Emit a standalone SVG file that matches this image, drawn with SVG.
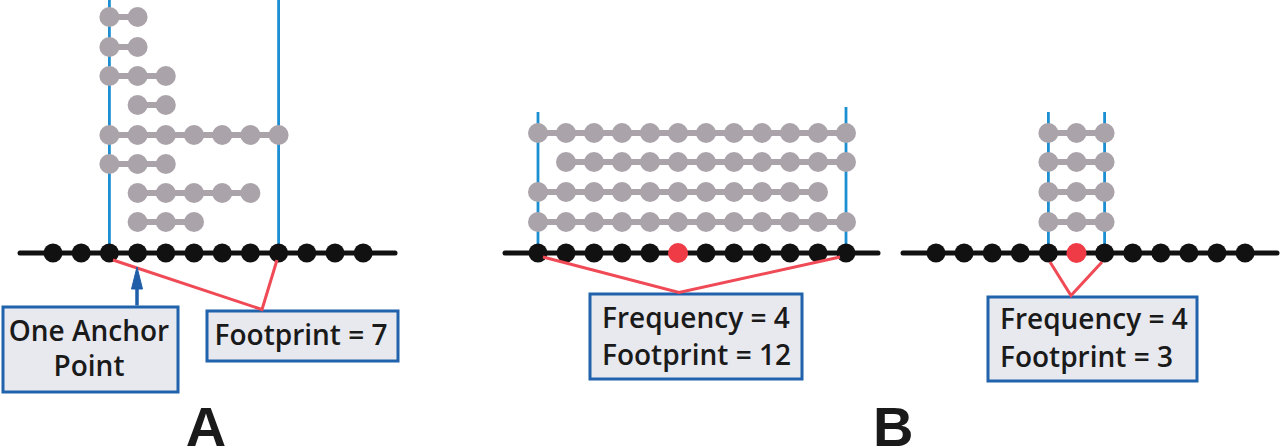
<svg xmlns="http://www.w3.org/2000/svg" width="1280" height="446" viewBox="0 0 1280 446">
<defs>
<style>
.axis{stroke:#111;stroke-width:5;stroke-linecap:round;fill:none}
.dot{fill:#111}
.red{fill:#ee3b45}
.bead{fill:#aaa4aa}
.link{stroke:#aaa4aa;stroke-width:6;fill:none}
.vline{stroke:#1b8fd2;stroke-width:2.8;fill:none}
.rl{stroke:#ef4a55;stroke-width:3;fill:none}
.box{fill:#e8e9ef;stroke:#2062ab;stroke-width:3}
.t{font-family:"Open Sans","Liberation Sans",sans-serif;font-size:28px;font-weight:600;fill:#1a1a1a}
.lab{font-family:"Liberation Sans",Arial,sans-serif;font-weight:bold;font-size:56px;fill:#1a1a1a}
.arrow{fill:#1f5ea8;stroke:#1f5ea8}
</style>
</defs>
<rect width="1280" height="446" fill="#ffffff"/>

<!-- Panel A -->
<g id="panelA">
<g id="A-reads">
<line class="vline" x1="109.4" y1="0" x2="109.4" y2="253"/>
<line class="vline" x1="278.6" y1="0" x2="278.6" y2="253"/>
<line class="link" x1="109.4" y1="17" x2="137.6" y2="17"/><circle class="bead" cx="109.4" cy="17" r="10"/><circle class="bead" cx="137.6" cy="17" r="10"/>
<line class="link" x1="109.4" y1="47" x2="137.6" y2="47"/><circle class="bead" cx="109.4" cy="47" r="10"/><circle class="bead" cx="137.6" cy="47" r="10"/>
<line class="link" x1="109.4" y1="76" x2="165.8" y2="76"/><circle class="bead" cx="109.4" cy="76" r="10"/><circle class="bead" cx="137.6" cy="76" r="10"/><circle class="bead" cx="165.8" cy="76" r="10"/>
<line class="link" x1="137.6" y1="105" x2="165.8" y2="105"/><circle class="bead" cx="137.6" cy="105" r="10"/><circle class="bead" cx="165.8" cy="105" r="10"/>
<line class="link" x1="109.4" y1="135" x2="278.6" y2="135"/><circle class="bead" cx="109.4" cy="135" r="10"/><circle class="bead" cx="137.6" cy="135" r="10"/><circle class="bead" cx="165.8" cy="135" r="10"/><circle class="bead" cx="194" cy="135" r="10"/><circle class="bead" cx="222.2" cy="135" r="10"/><circle class="bead" cx="250.4" cy="135" r="10"/><circle class="bead" cx="278.6" cy="135" r="10"/>
<line class="link" x1="109.4" y1="164" x2="165.8" y2="164"/><circle class="bead" cx="109.4" cy="164" r="10"/><circle class="bead" cx="137.6" cy="164" r="10"/><circle class="bead" cx="165.8" cy="164" r="10"/>
<line class="link" x1="137.6" y1="193" x2="250.4" y2="193"/><circle class="bead" cx="137.6" cy="193" r="10"/><circle class="bead" cx="165.8" cy="193" r="10"/><circle class="bead" cx="194" cy="193" r="10"/><circle class="bead" cx="222.2" cy="193" r="10"/><circle class="bead" cx="250.4" cy="193" r="10"/>
<line class="link" x1="137.6" y1="222" x2="194" y2="222"/><circle class="bead" cx="137.6" cy="222" r="10"/><circle class="bead" cx="165.8" cy="222" r="10"/><circle class="bead" cx="194" cy="222" r="10"/>
</g>
<g id="A-axis">
<line class="axis" x1="20" y1="253" x2="395" y2="253"/>
<circle class="dot" cx="53" cy="253" r="9.5"/><circle class="dot" cx="81.2" cy="253" r="9.5"/><circle class="dot" cx="109.4" cy="253" r="9.5"/><circle class="dot" cx="137.6" cy="253" r="9.5"/><circle class="dot" cx="165.8" cy="253" r="9.5"/><circle class="dot" cx="194" cy="253" r="9.5"/><circle class="dot" cx="222.2" cy="253" r="9.5"/><circle class="dot" cx="250.4" cy="253" r="9.5"/><circle class="dot" cx="278.6" cy="253" r="9.5"/><circle class="dot" cx="306.8" cy="253" r="9.5"/><circle class="dot" cx="335" cy="253" r="9.5"/><circle class="dot" cx="363.2" cy="253" r="9.5"/>
</g>
<g id="A-anchor-box">
<rect class="box" x="3" y="307" width="175" height="85"/>
<text class="t" x="89" y="341" text-anchor="middle">One Anchor</text>
<text class="t" x="89" y="376" text-anchor="middle">Point</text>
</g>
<g id="A-footprint-box">
<rect class="box" x="207" y="311" width="191" height="50"/>
<text class="t" x="301" y="345" text-anchor="middle">Footprint = 7</text>
</g>
<text id="labelA" class="lab" x="206" y="446" text-anchor="middle">A</text>
</g>

<!-- Panel B1 -->
<g id="panelB1">
<g id="B1-reads">
<line class="vline" x1="538" y1="112" x2="538" y2="253"/>
<line class="vline" x1="846" y1="107" x2="846" y2="253"/>
<line class="link" x1="538" y1="133" x2="846" y2="133"/>
<line class="link" x1="566" y1="162" x2="846" y2="162"/>
<line class="link" x1="538" y1="192" x2="818" y2="192"/>
<line class="link" x1="538" y1="222" x2="846" y2="222"/>
<g id="B1-row1"><circle class="bead" cx="538" cy="133" r="10"/><circle class="bead" cx="566" cy="133" r="10"/><circle class="bead" cx="594" cy="133" r="10"/><circle class="bead" cx="622" cy="133" r="10"/><circle class="bead" cx="650" cy="133" r="10"/><circle class="bead" cx="678" cy="133" r="10"/><circle class="bead" cx="706" cy="133" r="10"/><circle class="bead" cx="734" cy="133" r="10"/><circle class="bead" cx="762" cy="133" r="10"/><circle class="bead" cx="790" cy="133" r="10"/><circle class="bead" cx="818" cy="133" r="10"/><circle class="bead" cx="846" cy="133" r="10"/></g>
<g id="B1-row2"><circle class="bead" cx="566" cy="162" r="10"/><circle class="bead" cx="594" cy="162" r="10"/><circle class="bead" cx="622" cy="162" r="10"/><circle class="bead" cx="650" cy="162" r="10"/><circle class="bead" cx="678" cy="162" r="10"/><circle class="bead" cx="706" cy="162" r="10"/><circle class="bead" cx="734" cy="162" r="10"/><circle class="bead" cx="762" cy="162" r="10"/><circle class="bead" cx="790" cy="162" r="10"/><circle class="bead" cx="818" cy="162" r="10"/><circle class="bead" cx="846" cy="162" r="10"/></g>
<g id="B1-row3"><circle class="bead" cx="538" cy="192" r="10"/><circle class="bead" cx="566" cy="192" r="10"/><circle class="bead" cx="594" cy="192" r="10"/><circle class="bead" cx="622" cy="192" r="10"/><circle class="bead" cx="650" cy="192" r="10"/><circle class="bead" cx="678" cy="192" r="10"/><circle class="bead" cx="706" cy="192" r="10"/><circle class="bead" cx="734" cy="192" r="10"/><circle class="bead" cx="762" cy="192" r="10"/><circle class="bead" cx="790" cy="192" r="10"/><circle class="bead" cx="818" cy="192" r="10"/></g>
<g id="B1-row4"><circle class="bead" cx="538" cy="222" r="10"/><circle class="bead" cx="566" cy="222" r="10"/><circle class="bead" cx="594" cy="222" r="10"/><circle class="bead" cx="622" cy="222" r="10"/><circle class="bead" cx="650" cy="222" r="10"/><circle class="bead" cx="678" cy="222" r="10"/><circle class="bead" cx="706" cy="222" r="10"/><circle class="bead" cx="734" cy="222" r="10"/><circle class="bead" cx="762" cy="222" r="10"/><circle class="bead" cx="790" cy="222" r="10"/><circle class="bead" cx="818" cy="222" r="10"/><circle class="bead" cx="846" cy="222" r="10"/></g>
</g>
<g id="B1-axis">
<line class="axis" x1="505" y1="253" x2="878" y2="253"/>
<circle class="dot" cx="538" cy="253" r="9.5"/><circle class="dot" cx="566" cy="253" r="9.5"/><circle class="dot" cx="594" cy="253" r="9.5"/><circle class="dot" cx="622" cy="253" r="9.5"/><circle class="dot" cx="650" cy="253" r="9.5"/><circle class="red" cx="678" cy="253" r="10"/><circle class="dot" cx="706" cy="253" r="9.5"/><circle class="dot" cx="734" cy="253" r="9.5"/><circle class="dot" cx="762" cy="253" r="9.5"/><circle class="dot" cx="790" cy="253" r="9.5"/><circle class="dot" cx="818" cy="253" r="9.5"/><circle class="dot" cx="846" cy="253" r="9.5"/>
</g>
<g id="B1-box">
<rect class="box" x="590" y="294" width="212" height="85"/>
<text class="t" x="602" y="328">Frequency = 4</text>
<text class="t" x="602" y="365">Footprint = 12</text>
</g>
</g>

<!-- Panel B2 -->
<g id="panelB2">
<g id="B2-reads">
<line class="vline" x1="1048.4" y1="112" x2="1048.4" y2="253"/>
<line class="vline" x1="1104.6" y1="112" x2="1104.6" y2="253"/>
<line class="link" x1="1048.4" y1="133" x2="1104.6" y2="133"/><circle class="bead" cx="1048.4" cy="133" r="10"/><circle class="bead" cx="1076.5" cy="133" r="10"/><circle class="bead" cx="1104.6" cy="133" r="10"/>
<line class="link" x1="1048.4" y1="162" x2="1104.6" y2="162"/><circle class="bead" cx="1048.4" cy="162" r="10"/><circle class="bead" cx="1076.5" cy="162" r="10"/><circle class="bead" cx="1104.6" cy="162" r="10"/>
<line class="link" x1="1048.4" y1="192" x2="1104.6" y2="192"/><circle class="bead" cx="1048.4" cy="192" r="10"/><circle class="bead" cx="1076.5" cy="192" r="10"/><circle class="bead" cx="1104.6" cy="192" r="10"/>
<line class="link" x1="1048.4" y1="222" x2="1104.6" y2="222"/><circle class="bead" cx="1048.4" cy="222" r="10"/><circle class="bead" cx="1076.5" cy="222" r="10"/><circle class="bead" cx="1104.6" cy="222" r="10"/>
</g>
<g id="B2-axis">
<line class="axis" x1="903" y1="253" x2="1277" y2="253"/>
<circle class="dot" cx="936" cy="253" r="9.5"/><circle class="dot" cx="964.1" cy="253" r="9.5"/><circle class="dot" cx="992.2" cy="253" r="9.5"/><circle class="dot" cx="1020.3" cy="253" r="9.5"/><circle class="dot" cx="1048.4" cy="253" r="9.5"/><circle class="red" cx="1076.5" cy="253" r="10"/><circle class="dot" cx="1104.6" cy="253" r="9.5"/><circle class="dot" cx="1132.7" cy="253" r="9.5"/><circle class="dot" cx="1160.8" cy="253" r="9.5"/><circle class="dot" cx="1188.9" cy="253" r="9.5"/><circle class="dot" cx="1217" cy="253" r="9.5"/><circle class="dot" cx="1245.1" cy="253" r="9.5"/>
</g>
<g id="B2-box">
<rect class="box" x="988" y="297" width="209" height="84"/>
<text class="t" x="1000" y="329">Frequency = 4</text>
<text class="t" x="1000" y="367">Footprint = 3</text>
</g>
</g>
<text id="labelB" class="lab" x="873" y="446">B</text>

<!-- Connectors -->
<g id="connectors">
<polyline class="rl" points="113,260 262,309.5 277,260"/>
<polyline class="rl" points="543,257 679,292.5 840,257"/>
<polyline class="rl" points="1050,262 1071,295.5 1102,262"/>
<line x1="137" y1="305.5" x2="137" y2="285" stroke="#1f5ea8" stroke-width="3.5"/>
<polygon class="arrow" points="137,267 131.5,289 142.5,289"/>
</g>
</svg>
